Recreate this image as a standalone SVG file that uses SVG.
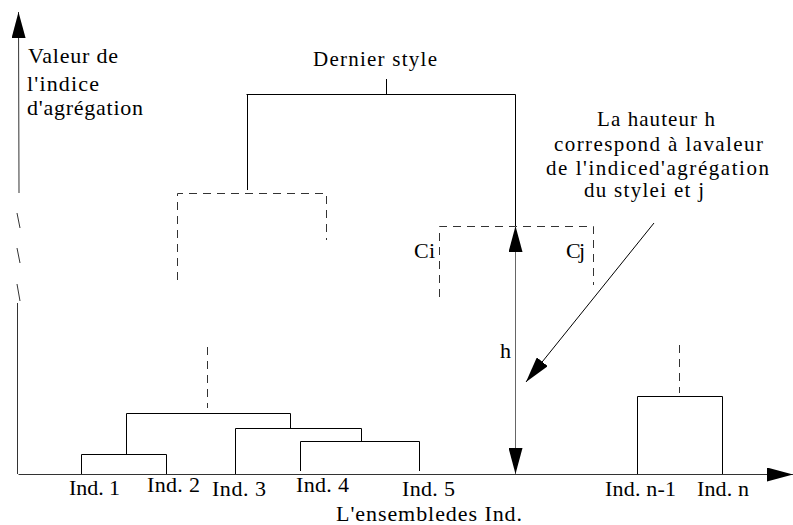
<svg xmlns="http://www.w3.org/2000/svg" width="793" height="525" viewBox="0 0 793 525" font-family="'Liberation Serif', 'Times New Roman', 'DejaVu Serif', serif">
<style>
text{font-family:'Liberation Serif','Times New Roman','DejaVu Serif',serif;fill:#000;font-size:22px}
.t20{font-size:21px}
.ln{fill:none;stroke:#000;stroke-width:1}
.ax{fill:none;stroke:#333;stroke-width:1}
.gr{fill:none;stroke:#666;stroke-width:1}
.ds{fill:none;stroke:#333;stroke-width:1;stroke-dasharray:8 6}
</style>
<defs>
<marker id="ah" viewBox="0 0 26 14" refX="26" refY="7" markerWidth="26" markerHeight="14" markerUnits="userSpaceOnUse" orient="auto-start-reverse">
<path d="M0,0 L26,7 L0,14 z" fill="#000"/>
</marker>
</defs>
<rect width="793" height="525" fill="#fff"/>

<g id="axes">
<path class="ax" d="M18.5,474.5 H793" marker-end="url(#ah)"/>
<path class="ax" d="M19,193 L18.5,12" marker-end="url(#ah)"/>
<path class="ax" d="M17.5,474 V303"/>
<path class="ax" d="M17,213 L20,228 M17,248 L20,263 M17,284 L20,301"/>
</g>

<g id="axis-labels">
<text x="28" y="63" textLength="90">Valeur de</text>
<text x="27" y="91" textLength="72">l'indice</text>
<text x="27" y="115" textLength="116">d'agrégation</text>
<text x="336" y="521" textLength="186">L'ensembledes Ind.</text>
</g>

<g id="root">
<text class="t20" x="313" y="66" textLength="124">Dernier style</text>
<path class="ln" d="M246.5,94.5 H515.5 M247.5,94.5 V190 M386.5,79 V94.5 M515.5,94.5 V226"/>
</g>

<g id="cluster-left">
<path class="ds" d="M177.5,280 V193.5 H326.5 V240"/>
</g>

<g id="cluster-ci-cj">
<path class="ds" d="M439.5,297 V226.5 H593.5 V285"/>
<text x="414" y="258" textLength="21">Ci</text>
<text x="566" y="258" textLength="19">Cj</text>
</g>

<g id="cluster-bottom">
<path class="ln" d="M81.5,474 V454.5 H166.5 V474"/>
<path class="ln" d="M126.5,454.5 V413.5 H290.5 V428.5"/>
<path class="ln" d="M235.5,474 V428.5 H361.5 V441.5"/>
<path class="ln" d="M300.5,471 V441.5 H419.5 V471"/>
<path class="ds" d="M207.5,347 V408"/>
</g>

<g id="cluster-n">
<path class="ln" d="M637.5,474 V396.5 H722.5 V474"/>
<path class="ds" d="M679.5,345 V393"/>
</g>

<g id="leaves">
<text x="69" y="495" textLength="51">Ind. 1</text>
<text x="147" y="492" textLength="53">Ind. 2</text>
<text x="212" y="496" textLength="54">Ind. 3</text>
<text x="296" y="492" textLength="53">Ind. 4</text>
<text x="402" y="496" textLength="53">Ind. 5</text>
<text x="605" y="496" textLength="71">Ind. n-1</text>
<text x="697" y="496" textLength="52">Ind. n</text>
</g>

<g id="note">
<text class="t20" x="597" y="126" textLength="118">La hauteur h</text>
<text class="t20" x="554" y="151" textLength="209">correspond à lavaleur</text>
<text class="t20" x="546" y="175" textLength="223">de l'indiced'agrégation</text>
<text class="t20" x="584" y="197" textLength="120">du stylei et j</text>
</g>

<g id="connectors">
<path class="gr" d="M515.5,226 V474" marker-start="url(#ah)" marker-end="url(#ah)"/>
<text x="500" y="358" textLength="11">h</text>
<path class="ln" d="M654,223 L526,382" marker-end="url(#ah)"/>
</g>
</svg>
